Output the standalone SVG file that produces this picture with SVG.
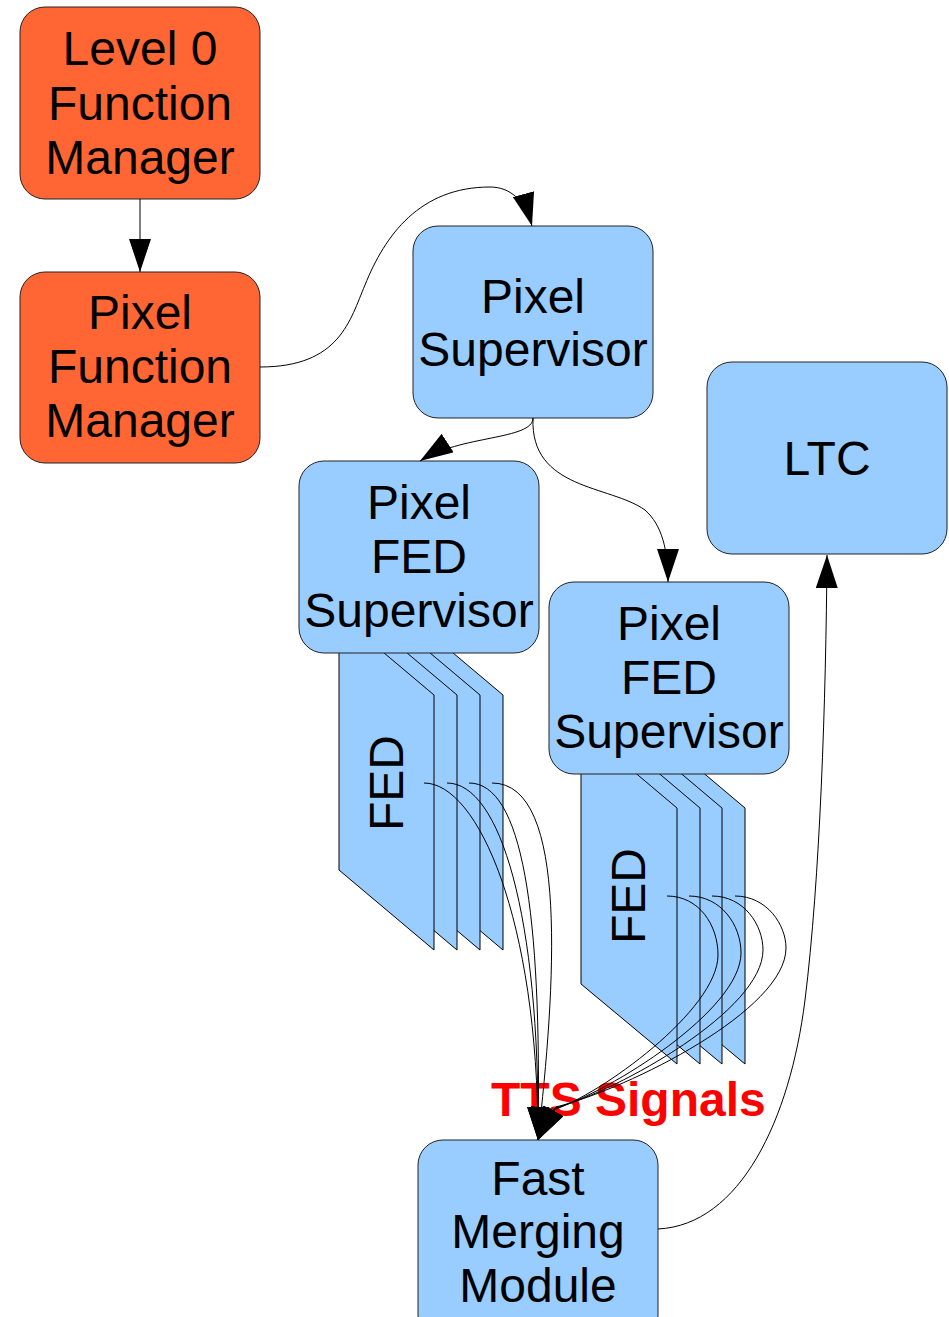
<svg xmlns="http://www.w3.org/2000/svg" width="949" height="1317" viewBox="0 0 949 1317">
<style>
.orange{fill:#ff6633;stroke:#222;stroke-width:1}
.blue{fill:#99ccff;stroke:#222;stroke-width:1}
.fed{fill:#99ccff;stroke:#000;stroke-width:1}
.lbl{font-family:"Liberation Sans",Arial,sans-serif;font-size:48px;fill:#000;text-anchor:middle}
.tts{font-family:"Liberation Sans",Arial,sans-serif;font-size:48px;font-weight:bold;fill:#ff0000}
.con{fill:none;stroke:#000;stroke-width:1;marker-end:url(#arr)}
</style>
<defs>
<marker id="arr" markerUnits="userSpaceOnUse" markerWidth="33" markerHeight="22" viewBox="0 0 33 22" refX="33" refY="11" orient="auto">
<path d="M0,0 L33,11 L0,22 z" fill="#000"/>
</marker>
<polygon id="fedcard1" points="339,615 434,695 434,950 339,870" class="fed"/>
<polygon id="fedcard2" points="581,727 677,808 677,1064 581,984" class="fed"/>
</defs>
<rect width="949" height="1317" fill="#fff"/>

<g id="fed-stack-1">
<use href="#fedcard1" x="69"/>
<use href="#fedcard1" x="46"/>
<use href="#fedcard1" x="23"/>
<use href="#fedcard1"/>
<text class="lbl" transform="translate(403,783) rotate(-90)">FED</text>
</g>
<g id="fed-stack-2">
<use href="#fedcard2" x="68"/>
<use href="#fedcard2" x="45"/>
<use href="#fedcard2" x="23"/>
<use href="#fedcard2"/>
<text class="lbl" transform="translate(645,896) rotate(-90)">FED</text>
</g>

<g id="level0-fm">
<rect class="orange" x="20" y="7" width="240" height="192" rx="25"/>
<text class="lbl" x="140" y="65">Level 0</text>
<text class="lbl" x="140" y="120">Function</text>
<text class="lbl" x="140" y="174">Manager</text>
</g>
<g id="pixel-fm">
<rect class="orange" x="20" y="272" width="240" height="191" rx="25"/>
<text class="lbl" x="140" y="329">Pixel</text>
<text class="lbl" x="140" y="383">Function</text>
<text class="lbl" x="140" y="437">Manager</text>
</g>
<g id="pixel-supervisor">
<rect class="blue" x="413" y="226" width="240" height="192" rx="25"/>
<text class="lbl" x="533" y="313">Pixel</text>
<text class="lbl" x="533" y="366">Supervisor</text>
</g>
<g id="ltc">
<rect class="blue" x="707" y="362" width="240" height="192" rx="25"/>
<text class="lbl" x="827" y="475">LTC</text>
</g>
<g id="pixel-fed-supervisor-1">
<rect class="blue" x="299" y="461" width="240" height="192" rx="25"/>
<text class="lbl" x="419" y="519">Pixel</text>
<text class="lbl" x="419" y="573">FED</text>
<text class="lbl" x="419" y="627">Supervisor</text>
</g>
<g id="pixel-fed-supervisor-2">
<rect class="blue" x="549" y="582" width="240" height="192" rx="25"/>
<text class="lbl" x="669" y="640">Pixel</text>
<text class="lbl" x="669" y="694">FED</text>
<text class="lbl" x="669" y="748">Supervisor</text>
</g>
<g id="fast-merging-module">
<rect class="blue" x="418" y="1140" width="240" height="200" rx="25"/>
<text class="lbl" x="538" y="1195">Fast</text>
<text class="lbl" x="538" y="1248">Merging</text>
<text class="lbl" x="538" y="1302">Module</text>
</g>

<text id="tts-label" class="tts" x="491" y="1116">TTS Signals</text>

<g id="connectors">
<path class="con" d="M140,199 L140,272"/>
<path class="con" d="M260,367 C340,367 350,320 365,285 C385,235 420,187 490,187 C510,187 525,200 532,226"/>
<path class="con" d="M533,418 C533,440 460,435 420,461"/>
<path class="con" d="M533,418 C530,490 610,485 645,510 C662,525 668,550 668,582"/>
<path class="con" d="M658,1229 C740,1225 790,1120 805,1000 C820,880 826,700 827,555"/>
<path class="con" d="M424,783 C478,783 538,920 538,1140"/>
<path class="con" d="M447,783 C500,783 540,915 538,1140"/>
<path class="con" d="M469,783 C522,783 542,910 538,1140"/>
<path class="con" d="M492,783 C570,783 555,990 538,1140"/>
<path class="con" d="M667,896 C699,896 718,925 718,955 C718,1010 600,1095 553,1110 L538,1140"/>
<path class="con" d="M689,896 C721,896 741,925 741,953 C741,1010 610,1092 554,1109 L538,1140"/>
<path class="con" d="M712,896 C744,896 763,925 763,950 C763,1010 620,1090 555,1108 L538,1140"/>
<path class="con" d="M735,896 C767,896 786,925 786,948 C786,1010 630,1088 556,1107 L538,1140"/>
</g>
</svg>
